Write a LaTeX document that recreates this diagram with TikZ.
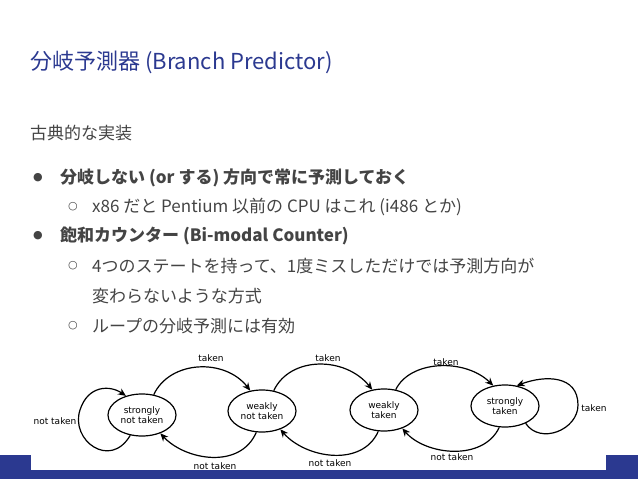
\documentclass[tikz,border=0pt]{standalone}
\usepackage{fontspec}
\setmainfont{Noto Sans CJK JP}
\newfontfamily\dejavu{DejaVu Sans}
\usetikzlibrary{arrows.meta,shapes.geometric}
\definecolor{ttl}{HTML}{2B3990}
\definecolor{bodyc}{HTML}{444444}
\definecolor{bar}{HTML}{2B3990}
\begin{document}
\begin{tikzpicture}[x=1pt,y=-1pt,
  st/.style={draw,ellipse,line width=1.2pt,minimum width=68pt,minimum height=42pt,inner sep=0pt,align=center,font=\fontsize{9}{10}\selectfont\dejavu},
  lbl/.style={font=\fontsize{9}{10}\selectfont\dejavu},
  arc/.style={line width=1.2pt,-{Stealth[length=8pt,width=7pt]}},
  txt/.style={anchor=west,inner sep=0pt,text=bodyc,font=\fontsize{17}{20}\selectfont},
  btxt/.style={txt,font=\fontsize{17}{20}\selectfont\bfseries}]
\useasboundingbox (0,0) rectangle (638,479);
\fill[bar] (0,455) rectangle (638,479);
\fill[white] (31,455) rectangle (606,470);
\node[anchor=west,inner sep=0pt,text=ttl,font=\fontsize{22}{26}\selectfont] (title) at (30,62) {分岐予測器 (Branch Predictor)};
\node[txt] (t0) at (30,133) {古典的な実装};
\node[txt] (b1) at (33,178) {\dejavu\fontsize{11}{11}\selectfont●};
\node[btxt] (l1) at (60,178) {分岐しない (or する) 方向で常に予測しておく};
\node[txt] (s1) at (68,207) {\dejavu\fontsize{11}{11}\selectfont○};
\node[txt] (l2) at (92,207) {x86 だと Pentium 以前の CPU はこれ (i486 とか)};
\node[txt] (b2) at (33,236) {\dejavu\fontsize{11}{11}\selectfont●};
\node[btxt] (l3) at (60,236) {飽和カウンター (Bi-modal Counter)};
\node[txt] (s2) at (68,266) {\dejavu\fontsize{11}{11}\selectfont○};
\node[txt] (l4) at (92,266) {4つのステートを持って、1度ミスしただけでは予測方向が};
\node[txt] (l5) at (92,296) {変わらないような方式};
\node[txt] (s3) at (68,326) {\dejavu\fontsize{11}{11}\selectfont○};
\node[txt] (l6) at (92,326) {ループの分岐予測には有効};
\node[st] (a) at (142,415) {strongly\\not taken};
\node[st] (b) at (262,411) {weakly\\not taken};
\node[st] (c) at (384,410) {weakly\\taken};
\node[st] (d) at (505,406) {strongly\\taken};
\draw[arc] (a.60) .. controls (170,360) and (225,358) .. (b.120);
\draw[arc] (b.60) .. controls (290,356) and (345,356) .. (c.120);
\draw[arc] (c.60) .. controls (410,360) and (465,358) .. (d.120);
\draw[arc] (b.-105) .. controls (240,470) and (185,460) .. (a.-45);
\draw[arc] (c.-105) .. controls (362,468) and (305,458) .. (b.-45);
\draw[arc] (d.-105) .. controls (483,462) and (425,455) .. (c.-45);
\draw[arc] (a.-120) .. controls (110,470) and (70,440) .. (80,410) .. controls (88,385) and (110,385) .. (a.130);
\draw[arc] (d.-40) .. controls (540,445) and (578,430) .. (578,405) .. controls (578,375) and (545,375) .. (d.60);
\node[lbl] (k1) at (211,358) {taken};
\node[lbl] (k2) at (328,358) {taken};
\node[lbl] (k3) at (446,362) {taken};
\node[lbl] (k4) at (594,408) {taken};
\node[lbl] (n0) at (55,421) {not taken};
\node[lbl] (n1) at (215,466) {not taken};
\node[lbl] (n2) at (330,463) {not taken};
\node[lbl] (n3) at (452,457) {not taken};
\end{tikzpicture}
\end{document}
